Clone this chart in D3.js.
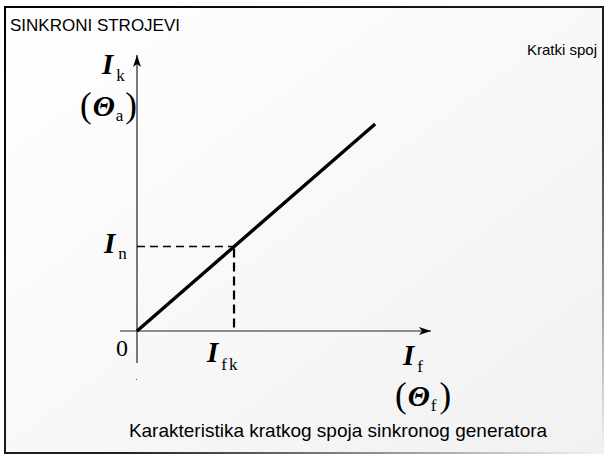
<!DOCTYPE html>
<html lang="hr">
<head>
  <meta charset="UTF-8">
  <title>Kratki spoj</title>
  <script src="https://d3js.org/d3.v7.min.js"></script>
  <style>
    body { margin: 0; background: #fff; }
    svg { display: block; }
    .sans { font-family: "Liberation Sans", Arial, sans-serif; fill: #000; }
    .serif { font-family: "Liberation Serif", "Times New Roman", serif; fill: #000; }
  </style>
</head>
<body>
  <svg width="608" height="457"></svg>
  <script>
    // data (arbitrary units)
    const xDomain = [0, 10]
    const yDomain = [0, 10]
    const characteristic = [[0, 0], [8.1, 7.5]]   // Ik = k * If
    const ratedPoint = [3.3, 3.06]                  // (Ifk, In)
    const titleText = "SINKRONI STROJEVI"
    const cornerText = "Kratki spoj"
    const captionText = "Karakteristika kratkog spoja sinkronog generatora"

    const svg = d3.select("svg")
    const defs = svg.append("defs")

    // slide background
    const bg = defs.append("linearGradient").attr("id", "bg")
      .attr("x1", 0).attr("y1", 0).attr("x2", 1).attr("y2", 1)
    bg.append("stop").attr("offset", 0).attr("stop-color", "#ffffff")
    bg.append("stop").attr("offset", 1).attr("stop-color", "#f1f1f1")

    const fr = defs.append("linearGradient").attr("id", "frame")
      .attr("x1", 0).attr("y1", 0).attr("x2", 1).attr("y2", 1)
    fr.append("stop").attr("offset", 0).attr("stop-color", "#000")
    fr.append("stop").attr("offset", 0.6).attr("stop-color", "#222")
    fr.append("stop").attr("offset", 1).attr("stop-color", "#f3f3f3")

    svg.append("rect").attr("x", 0).attr("y", 0).attr("width", 608).attr("height", 457).attr("fill", "#fff")
    svg.append("rect").attr("x", 5).attr("y", 7).attr("width", 598).attr("height", 446)
      .attr("fill", "url(#bg)").attr("stroke", "url(#frame)").attr("stroke-width", 2)

    // arrow head
    defs.append("marker").attr("id", "arrow")
      .attr("viewBox", "0 0 12 8").attr("refX", 12).attr("refY", 4)
      .attr("markerWidth", 12).attr("markerHeight", 8).attr("markerUnits", "userSpaceOnUse")
      .attr("orient", "auto")
      .append("path").attr("d", "M0,0 L12,4 L0,8 L3,4 Z").attr("fill", "#000")

    const x = d3.scaleLinear().domain(xDomain).range([137, 431])
    const y = d3.scaleLinear().domain(yDomain).range([331, 55])

    // axes
    svg.append("line")
      .attr("x1", x(0) - 17).attr("y1", y(0)).attr("x2", x(xDomain[1])).attr("y2", y(0))
      .attr("stroke", "#222").attr("stroke-width", 1.2).attr("marker-end", "url(#arrow)")
    svg.append("line")
      .attr("x1", x(0)).attr("y1", y(0) + 32).attr("x2", x(0)).attr("y2", y(yDomain[1]))
      .attr("stroke", "#222").attr("stroke-width", 1.2).attr("marker-end", "url(#arrow)")
    svg.append("rect").attr("x", x(0) - 1).attr("y", y(0) + 48).attr("width", 1).attr("height", 1).attr("fill", "#555")

    // dashed helpers
    svg.append("line")
      .attr("x1", x(0)).attr("y1", y(ratedPoint[1])).attr("x2", x(ratedPoint[0])).attr("y2", y(ratedPoint[1]))
      .attr("stroke", "#000").attr("stroke-width", 1.4).attr("stroke-dasharray", "8,5")
    svg.append("line")
      .attr("x1", x(ratedPoint[0])).attr("y1", y(ratedPoint[1]) + 2).attr("x2", x(ratedPoint[0])).attr("y2", y(0))
      .attr("stroke", "#000").attr("stroke-width", 2.2).attr("stroke-dasharray", "9,5")

    // characteristic
    svg.append("path")
      .attr("d", d3.line().x(d => x(d[0])).y(d => y(d[1]))(characteristic))
      .attr("fill", "none").attr("stroke", "#000").attr("stroke-width", 3.4)

    // one text per symbol: [text, kind, dx, dy]
    // kind: b = bold italic main letter, s = subscript, p = big parenthesis
    const styles = {
      b: { size: 29, weight: "bold", style: "italic" },
      s: { size: 17, weight: "normal", style: "normal" },
      p: { size: 35, weight: "normal", style: "normal" }
    }
    function symbol(px, py, parts) {
      const t = svg.append("text").attr("class", "serif").attr("x", px).attr("y", py)
      parts.forEach(([txt, kind, dx, dy]) => {
        const s = styles[kind]
        t.append("tspan").text(txt)
          .attr("font-size", s.size).attr("font-weight", s.weight).attr("font-style", s.style)
          .attr("dx", dx || 0).attr("dy", dy || 0)
      })
    }

    symbol(102, 74, [["I", "b"], ["k", "s", 3, 7]])
    symbol(80, 117, [["(", "p"], ["Θ", "b", 1, -1], ["a", "s", 1, 5], [")", "p", 2, -4]])
    symbol(104, 253, [["I", "b"], ["n", "s", 3, 6]])
    svg.append("text").attr("class", "serif").attr("x", 116).attr("y", 356)
      .attr("font-size", 24).text("0")
    symbol(207, 362, [["I", "b"], ["f", "s", 3, 8], ["k", "s", 2, 0]])
    symbol(403, 365, [["I", "b"], ["f", "s", 3, 7]])
    symbol(395, 407, [["(", "p"], ["Θ", "b", 1, -1], ["f", "s", 1, 5], [")", "p", 3, -4]])

    // texts
    svg.append("text").attr("class", "sans").attr("x", 10).attr("y", 31)
      .attr("font-size", 17).text(titleText)
    svg.append("text").attr("class", "sans").attr("x", 597).attr("y", 55)
      .attr("text-anchor", "end").attr("font-size", 15).text(cornerText)
    svg.append("text").attr("class", "sans").attr("x", 338).attr("y", 437)
      .attr("text-anchor", "middle").attr("font-size", 19).text(captionText)
  </script>
</body>
</html>
